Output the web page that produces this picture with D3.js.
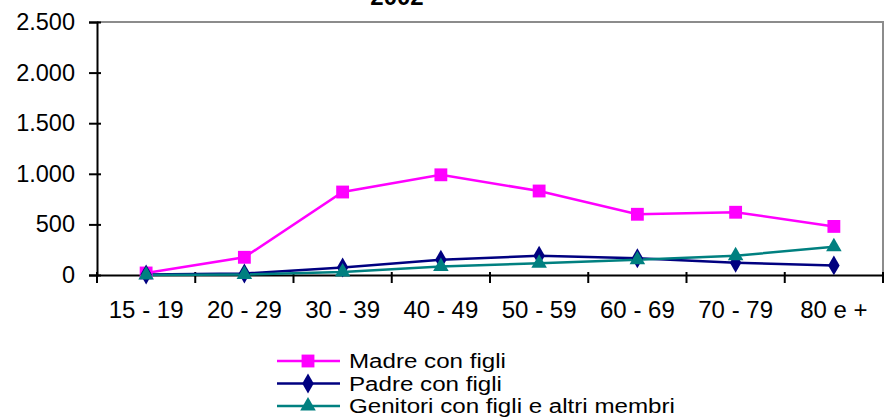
<!DOCTYPE html>
<html>
<head>
<meta charset="utf-8">
<script src="https://cdn.jsdelivr.net/npm/d3@7"></script>
<style>
  html, body { margin: 0; padding: 0; background: #fff; }
  svg { display: block; font-family: Arial, "Liberation Sans", sans-serif; }
</style>
</head>
<body>
<svg id="chart" width="884" height="420"></svg>
<script>
const title = "2002";
const categories = ["15 - 19", "20 - 29", "30 - 39", "40 - 49", "50 - 59", "60 - 69", "70 - 79", "80 e +"];
const madre = [20, 175, 820, 990, 830, 600, 620, 480];
const padre = [5, 15, 75, 150, 190, 165, 120, 95];
const genitori = [0, 5, 30, 85, 115, 150, 190, 280];
const seriesNames = ["Madre con figli", "Padre con figli", "Genitori con figli e altri membri"];
const yTicks = [0, 500, 1000, 1500, 2000, 2500];

const series = [
  { name: seriesNames[0], values: madre, color: "#ff00ff", symbol: d3.symbolSquare, size: 165 },
  { name: seriesNames[1], values: padre, color: "#000080", symbol: d3.symbolDiamond, size: 115 },
  { name: seriesNames[2], values: genitori, color: "#008080", symbol: d3.symbolTriangle, size: 105 }
];

const svg = d3.select("#chart");
const mLeft = 97, mRight = 883, mTop = 22, mBottom = 275;

const x = d3.scaleBand().domain(categories).range([mLeft, mRight]).padding(0);
const y = d3.scaleLinear().domain([0, 2500]).range([mBottom, mTop]);
const it = d3.formatLocale({ decimal: ",", thousands: ".", grouping: [3], currency: ["", "€"] });
const fmt = it.format(",d");

// plot border (top & right)
svg.append("path")
  .attr("d", `M${mLeft},${mTop}H${mRight}V${mBottom}`)
  .attr("fill", "none").attr("stroke", "#8c8c8c").attr("stroke-width", 2);

// title (clipped at the top edge, as in the reference)
svg.append("text").attr("x", 397).attr("y", 5)
  .attr("text-anchor", "middle").attr("font-weight", "bold").attr("font-size", 24)
  .text(title);

// y axis
const yAxis = svg.append("g").attr("transform", `translate(${mLeft},0)`)
  .call(d3.axisLeft(y).tickValues(yTicks).tickFormat(fmt).tickSize(8).tickPadding(14));
yAxis.select(".domain").attr("stroke", "#000").attr("stroke-width", 2);
yAxis.selectAll(".tick line").attr("stroke", "#000").attr("stroke-width", 2).attr("x2", -8).attr("x1", 4);
yAxis.selectAll(".tick text").attr("font-size", 23.5).attr("fill", "#000")
  .attr("font-family", "Arial, 'Liberation Sans', sans-serif");

// x axis
const xAxis = svg.append("g").attr("transform", `translate(0,${mBottom})`)
  .call(d3.axisBottom(x).tickSize(0).tickPadding(26));
xAxis.select(".domain").attr("stroke", "#000").attr("stroke-width", 2);
xAxis.selectAll(".tick text").attr("font-size", 24).attr("fill", "#000")
  .attr("font-family", "Arial, 'Liberation Sans', sans-serif");
// band boundary ticks
const edges = categories.map(c => x(c)).concat([x(categories[categories.length - 1]) + x.bandwidth()]);
svg.append("g").selectAll("line").data(edges).join("line")
  .attr("x1", d => d).attr("x2", d => d)
  .attr("y1", mBottom - 3).attr("y2", mBottom + 8)
  .attr("stroke", "#000").attr("stroke-width", 2);

const cx = c => x(c) + x.bandwidth() / 2;
const line = d3.line().x((d, i) => cx(categories[i])).y(d => y(d));

series.forEach(s => {
  svg.append("path").datum(s.values)
    .attr("d", line).attr("fill", "none")
    .attr("stroke", s.color).attr("stroke-width", 2.5);
});
series.forEach(s => {
  svg.append("g").selectAll("path").data(s.values).join("path")
    .attr("transform", (d, i) => `translate(${cx(categories[i])},${y(d)})`)
    .attr("d", d3.symbol().type(s.symbol).size(s.size))
    .attr("fill", s.color);
});

// legend
const lg = svg.append("g");
series.forEach((s, i) => {
  const ly = 361 + i * 22.5;
  lg.append("line").attr("x1", 277).attr("x2", 340).attr("y1", ly).attr("y2", ly)
    .attr("stroke", s.color).attr("stroke-width", 2.5);
  lg.append("path").attr("transform", `translate(308,${ly})`)
    .attr("d", d3.symbol().type(s.symbol).size(s.size)).attr("fill", s.color);
  lg.append("text")
    .attr("transform", `translate(349,${ly}) scale(1.15,1)`)
    .attr("dy", "0.35em")
    .attr("font-size", 21).attr("fill", "#000").text(s.name);
});
</script>
</body>
</html>
